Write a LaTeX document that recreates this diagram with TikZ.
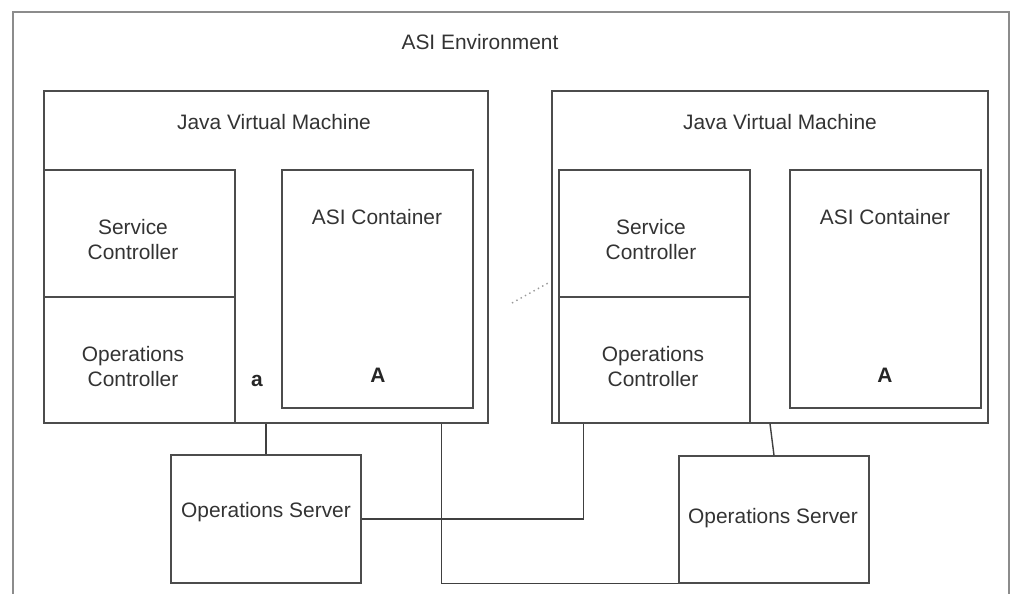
\documentclass[tikz,border=0pt]{standalone}
\usepackage{fontspec}
\setmainfont{Liberation Sans}
\usetikzlibrary{fit}

\begin{document}
\begin{tikzpicture}[x=0.02cm, y=-0.02cm,
    font=\fontsize{11.9}{14.2}\selectfont, text=black!80,
    box/.style={draw=black!70, line width=0.8pt, inner sep=0pt, align=center, fit={#1}},
    wire/.style={draw=black!75, line width=0.8pt},
    tag/.style={font=\fontsize{11.9}{14.2}\selectfont\bfseries, text=black!85}]
  \clip (0,0) rectangle (1011,594);
  \draw[black!45, line width=0.8pt] (13,620) |- (1009,12) -- (1009,620);
  \node (env) at (480,42) {ASI Environment};

  \node[box={(44,91) (488,423)}] (jvm1) {};
  \node (jvm1lbl) at (274,122) {Java Virtual Machine};
  \node[box={(44,170) (235,297)}] (sc1) {};
  \node[align=center] (sc1lbl) at (133,240) {Service\\Controller};
  \node[box={(44,297) (235,423)}] (oc1) {};
  \node[align=center] (oc1lbl) at (133,367) {Operations\\Controller};
  \node[box={(282,170) (473,408)}] (asi1) {};
  \node (asi1lbl) at (377,217) {ASI Container};
  \node[tag] (big1) at (378,375) {A};
  \node[tag] (small1) at (257,381) {a};

  \node[box={(552,91) (988,423)}] (jvm2) {};
  \node (jvm2lbl) at (780,122) {Java Virtual Machine};
  \node[box={(559,170) (750,297)}] (sc2) {};
  \node[align=center] (sc2lbl) at (651,240) {Service\\Controller};
  \node[box={(559,297) (750,423)}] (oc2) {};
  \node[align=center] (oc2lbl) at (653,367) {Operations\\Controller};
  \node[box={(790,170) (981,408)}] (asi2) {};
  \node (asi2lbl) at (885,217) {ASI Container};
  \node[tag] (big2) at (885,375) {A};

  \node[box={(171,455) (361,583)}] (os1) {};
  \node (os1lbl) at (266,512) {Operations Server};
  \node[box={(679,456) (869,583)}] (os2) {};
  \node (os2lbl) at (773,518) {Operations Server};

  \draw[wire] (os1.north) -- (os1.north |- jvm1.south);
  \draw[wire] (os1.east) -| ([xshift=0.5cm]oc2.south west);
  \draw[wire] ([xshift=-0.94cm]jvm1.south east) |- (os2.south west);
  \draw[wire] (jvm2.south) -- (os2.north);

  \coordinate (dot1) at (512,303);
  \coordinate (dot2) at (550,282);
  \draw[black!40, dotted, line width=0.8pt] (dot1) -- (dot2);
\end{tikzpicture}
\end{document}
